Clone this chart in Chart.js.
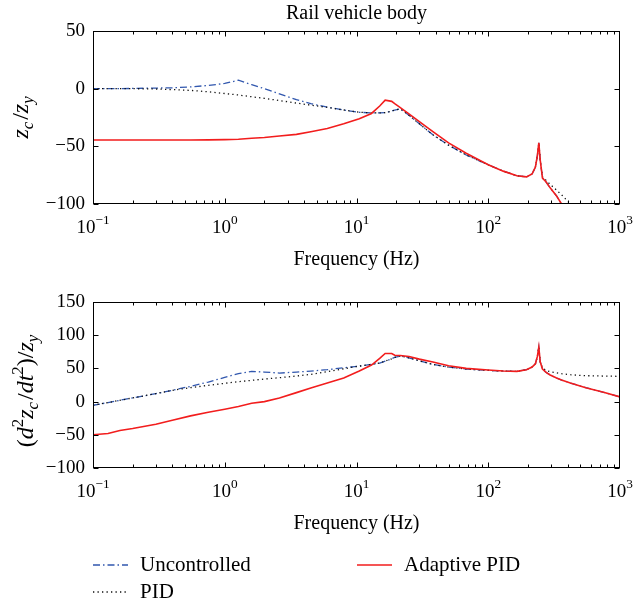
<!DOCTYPE html>
<html lang="en">
<head>
<meta charset="UTF-8">
<title>Rail vehicle body</title>
<script src="https://cdn.jsdelivr.net/npm/chart.js@4"></script>
<style>
  * { margin:0; padding:0; box-sizing:border-box; }
  body { background:#fff; width:634px; height:605px; position:relative; overflow:hidden; }
  canvas { position:absolute; left:0; }
  #c1 { top:0; }
  #c2 { top:280px; }
</style>
</head>
<body>
<canvas id="c1" width="634" height="280"></canvas>
<canvas id="c2" width="634" height="325"></canvas>
<script>
var FONT = "'Liberation Serif', 'Times New Roman', serif";

// frequency points (Hz), shared by all curves
var freq = [0.1, 0.13, 0.16, 0.2, 0.3, 0.4, 0.55, 0.75, 1.0, 1.27, 1.6, 2.0, 2.6, 3.5, 4.5, 6, 8, 10.5, 13, 15,
            16.5, 18.5, 19.5, 21.5, 25, 30, 38, 50, 68, 100, 130, 165, 195, 215, 228, 236, 242, 248, 258, 275,
            295, 330, 360, 420, 550, 750, 1000];

// upper plot: z_c / z_y
var upUncontrolled = [0, 0, 0, 0.2, 0.5, 0.8, 1.5, 2.8, 4.5, 7.3, 3.5, 0, -4.5, -9.5, -13, -16, -18.5, -20.5, -21, -21,
            -20.8, -19.5, -18.5, -17.5, -23, -30.5, -40, -49, -57.5, -66, -71.5, -75.5, -76.5, -74, -68, -58, -47, -62, -77.5, -81,
            -86, -93, -100, null, null, null, null];
var upPID = [0, 0, 0, 0, -0.3, -0.8, -1.5, -2.7, -4.2, -5.5, -7, -8.4, -10.3, -12.5, -14.3, -16.2, -18.5, -20.5, -21, -21,
            -20.8, -19.5, -18.5, -17.5, -23, -30.5, -40, -49, -57.5, -66, -71.5, -75.5, -76.5, -74, -68, -58, -47, -62, -76.5, -79.5,
            -83, -88, -92, -100, null, null, null];
var upAdaptive = [-44.5, -44.5, -44.5, -44.5, -44.5, -44.5, -44.5, -44.4, -44.2, -43.8, -43, -42.3, -41, -39.6, -37.3, -34.5, -30.5, -26, -21.5, -15,
            -10, -11, -13, -16.5, -21.8, -28.6, -37.3, -47, -56, -66, -71.5, -75.5, -76.5, -74, -68, -58, -47, -62, -77.5, -81,
            -86, -93, -100, null, null, null, null];

// lower plot: (d^2 z_c / dt^2) / z_y
var loUncontrolled = [-5.5, -1.5, 2, 5.5, 12, 17, 23, 29.5, 36.5, 42, 45.5, 44.5, 43, 44.5, 46, 48, 51, 53.5, 56, 58,
            61, 64.5, 66.5, 68.5, 66, 61.5, 56, 52, 49, 47, 46, 45.5, 48, 52, 57, 68, 82, 60, 49, 44,
            40, 35.5, 32.5, 28, 21, 14, 7];
var loPID = [-5.5, -1.5, 2, 5.5, 12, 17, 21, 24.5, 27.5, 30, 32, 34, 36, 38.5, 41, 45, 49.5, 53.5, 56, 58,
            61, 64.5, 66.5, 68.5, 66, 61.5, 56, 52, 49, 47, 46, 45.5, 48, 52, 57, 68, 82, 60, 51, 47,
            45, 43.5, 42, 40.5, 39, 38.5, 38];
var loAdaptive = [-50, -48, -43.5, -40.5, -34, -28, -21.5, -16, -11.5, -7.5, -2.5, 0, 5.5, 13.5, 20.5, 28, 35.5, 46, 55, 65,
            72.5, 72.5, 69.8, 69.5, 68, 64, 59.5, 54, 50, 47.5, 46, 45.5, 48, 52, 57, 68, 82, 60, 49, 44,
            40, 35.5, 32.5, 28, 21, 14, 7];

var decades = [-1, 0, 1, 2, 3];
var seriesNames = ['Uncontrolled', 'PID', 'Adaptive PID'];

function pts(vals) { return freq.map(function(f, i) { return { x: f, y: vals[i] }; }); }

function measureParts(ctx, parts, size) {
  var w = 0;
  parts.forEach(function(p) {
    var s = (p.sub || p.sup) ? size * 0.7 : size;
    ctx.font = (p.i ? 'italic ' : '') + s + 'px ' + FONT;
    p._w = ctx.measureText(p.t).width + (p.gap || 0);
    w += p._w;
  });
  return w;
}
function drawParts(ctx, parts, size, x, y, rot, supUp) {
  ctx.save();
  ctx.translate(x, y);
  if (rot) ctx.rotate(-Math.PI / 2);
  var w = measureParts(ctx, parts, size);
  var cx = -w / 2;
  ctx.textBaseline = 'alphabetic';
  ctx.textAlign = 'left';
  ctx.fillStyle = '#000';
  parts.forEach(function(p) {
    var s = (p.sub || p.sup) ? size * 0.7 : size;
    ctx.font = (p.i ? 'italic ' : '') + s + 'px ' + FONT;
    var dy = p.sub ? size * 0.22 : (p.sup ? -size * (supUp || 0.4) : 0);
    ctx.fillText(p.t, cx, dy);
    cx += p._w;
  });
  ctx.restore();
}

var framePlugin = {
  id: 'frame',
  afterDraw: function(chart, args, o) {
    var ctx = chart.ctx, a = chart.chartArea, xs = chart.scales.x, ys = chart.scales.y;
    var L = Math.round(a.left) + 0.5, R = Math.round(a.right) - 0.5, T = Math.round(a.top) + 0.5, B = Math.round(a.bottom) - 0.5;
    ctx.save();
    ctx.strokeStyle = '#000';
    ctx.lineWidth = 1;
    ctx.strokeRect(L, T, R - L, B - T);
    ctx.beginPath();
    decades.slice(0, -1).forEach(function(e) {
      for (var m = 1; m <= 9; m++) {
        var px = Math.round(xs.getPixelForValue(m * Math.pow(10, e))) + 0.5;
        var len = m === 1 ? 5 : 3;
        ctx.moveTo(px, B); ctx.lineTo(px, B - len);
        ctx.moveTo(px, T); ctx.lineTo(px, T + len);
      }
    });
    ys.ticks.forEach(function(t) {
      var py = Math.round(ys.getPixelForValue(t.value)) + 0.5;
      ctx.moveTo(L, py); ctx.lineTo(L + 5, py);
      ctx.moveTo(R, py); ctx.lineTo(R - 5, py);
    });
    ctx.stroke();

    decades.forEach(function(e) {
      var px = xs.getPixelForValue(Math.pow(10, e));
      drawParts(ctx, [{ t: '10' }, { t: e < 0 ? '\u2212' + (-e) : '' + e, sup: true }], 19, px, a.bottom + 29, false, 0.5);
    });

    ctx.fillStyle = '#000';
    ctx.font = '20px ' + FONT;
    ctx.textAlign = 'center';
    ctx.textBaseline = 'alphabetic';
    ctx.fillText('Frequency (Hz)', (a.left + a.right) / 2, a.bottom + 61);
    if (o.title) ctx.fillText(o.title, (a.left + a.right) / 2, 19);

    drawParts(ctx, o.ylabel, 24, o.ylabelX, (a.top + a.bottom) / 2 + (o.ylabelDy || 0), true);

    if (o.legend) {
      var ds = chart.data.datasets;
      var spots = [[93, 285], [93, 312], [357, 285]];
      ds.forEach(function(d, i) {
        var s = spots[i];
        ctx.beginPath();
        ctx.strokeStyle = d.borderColor;
        ctx.lineWidth = d.borderWidth;
        ctx.setLineDash(d.borderDash || []);
        ctx.moveTo(s[0], s[1]); ctx.lineTo(s[0] + 35, s[1]);
        ctx.stroke();
        ctx.setLineDash([]);
        ctx.fillStyle = '#000';
        ctx.font = '21px ' + FONT;
        ctx.textAlign = 'left';
        ctx.fillText(seriesNames[i], s[0] + 47, s[1] + 6);
      });
    }
    ctx.restore();
  }
};

function makeChart(id, unc, pid, apid, ymin, ymax, padTop, xHeight, extra) {
  return new Chart(document.getElementById(id), {
    type: 'line',
    data: {
      datasets: [
        { label: seriesNames[0], data: pts(unc), borderColor: '#3157ae', borderWidth: 1.3, borderDash: [7, 3, 1.5, 3], order: 3 },
        { label: seriesNames[1], data: pts(pid), borderColor: '#111111', borderWidth: 1.3, borderDash: [1.3, 3.2], order: 2 },
        { label: seriesNames[2], data: pts(apid), borderColor: '#f21d1d', borderWidth: 1.6, order: 1 }
      ]
    },
    options: {
      responsive: false,
      animation: false,
      events: [],
      layout: { padding: { left: 0, right: 14, top: padTop, bottom: 0 } },
      elements: { point: { radius: 0 }, line: { tension: 0, fill: false } },
      plugins: { legend: { display: false }, tooltip: { enabled: false }, frame: extra },
      scales: {
        x: {
          type: 'logarithmic', min: 0.1, max: 1000,
          grid: { display: false, drawTicks: false }, border: { display: false },
          ticks: { display: false },
          afterFit: function(s) { s.height = xHeight; }
        },
        y: {
          min: ymin, max: ymax,
          grid: { display: false, drawTicks: false }, border: { display: false },
          ticks: {
            stepSize: 50, padding: 8, color: '#000',
            font: { family: FONT, size: 19 },
            callback: function(v) { return String(v).replace('-', '\u2212'); }
          },
          afterFit: function(s) { s.width = 93; }
        }
      }
    },
    plugins: [framePlugin]
  });
}

makeChart('c1', upUncontrolled, upPID, upAdaptive, -100, 50, 31, 76, {
  title: 'Rail vehicle body',
  ylabelX: 28,
  ylabel: [{ t: 'z', i: true }, { t: 'c', i: true, sub: true, gap: 2 }, { t: '/' }, { t: 'z', i: true }, { t: 'y', i: true, sub: true }]
});
makeChart('c2', loUncontrolled, loPID, loAdaptive, -100, 150, 22, 137, {
  legend: true,
  ylabelX: 33,
  ylabelDy: 6,
  ylabel: [{ t: '(' }, { t: 'd', i: true }, { t: '2', sup: true }, { t: 'z', i: true }, { t: 'c', i: true, sub: true, gap: 2 },
           { t: '/' }, { t: 'd', i: true }, { t: 't', i: true }, { t: '2', sup: true }, { t: ')' }, { t: '/' },
           { t: 'z', i: true }, { t: 'y', i: true, sub: true }]
});
</script>
</body>
</html>
